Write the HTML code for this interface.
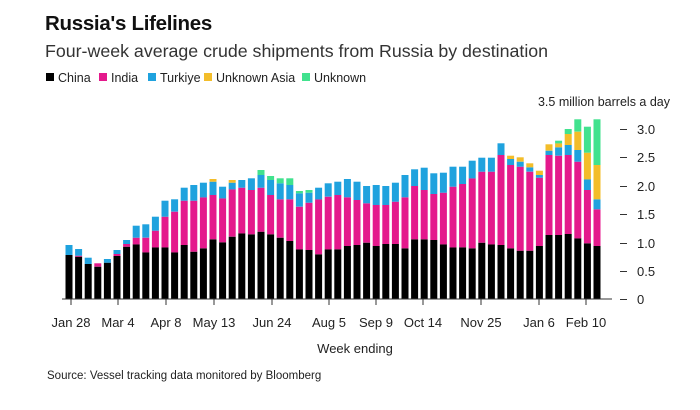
<!DOCTYPE html>
<html><head><meta charset="utf-8"><style>
body{margin:0;background:#fff;}
svg{display:block;font-family:"Liberation Sans",Arial,sans-serif;}
</style></head><body>
<svg id="s" width="700" height="410" xmlns="http://www.w3.org/2000/svg">
<rect width="700" height="410" fill="#fff"/>
<text x="45" y="30" font-size="20.5" font-weight="bold" fill="#111" letter-spacing="-0.3">Russia's Lifelines</text>
<text x="45" y="57" font-size="17.8" fill="#333">Four-week average crude shipments from Russia by destination</text>
<g font-size="12.5" fill="#222">
<rect x="46" y="73" width="8" height="8" fill="#000"/><text x="58" y="82">China</text>
<rect x="99" y="73" width="8" height="8" fill="#e4198c"/><text x="111" y="82">India</text>
<rect x="148" y="73" width="8" height="8" fill="#1fa2de"/><text x="160" y="82">Turkiye</text>
<rect x="204" y="73" width="8" height="8" fill="#f3bd2a"/><text x="216" y="82">Unknown Asia</text>
<rect x="302" y="73" width="8" height="8" fill="#41e28e"/><text x="314" y="82">Unknown</text>
</g>
<text x="670" y="106" font-size="12.5" fill="#222" text-anchor="end">3.5 million barrels a day</text>
<g id="bars"></g>
<line x1="62" y1="299" x2="612" y2="299" stroke="#333" stroke-width="1"/>
<g font-size="13" fill="#222">
<text x="637" y="134">3.0</text><text x="637" y="162">2.5</text><text x="637" y="191">2.0</text>
<text x="637" y="219">1.5</text><text x="637" y="248">1.0</text><text x="637" y="276">0.5</text><text x="637" y="304">0</text>
</g>
<g stroke="#333" stroke-width="1">
<line x1="620" y1="129.5" x2="627" y2="129.5"/><line x1="620" y1="157.5" x2="627" y2="157.5"/><line x1="620" y1="186.5" x2="627" y2="186.5"/>
<line x1="620" y1="214.5" x2="627" y2="214.5"/><line x1="620" y1="243.5" x2="627" y2="243.5"/><line x1="620" y1="271.5" x2="627" y2="271.5"/><line x1="620" y1="299.5" x2="627" y2="299.5"/>
</g>
<g id="xt" font-size="13" fill="#222" text-anchor="middle"></g>
<text x="355" y="353" font-size="13" fill="#222" text-anchor="middle">Week ending</text>
<text x="47" y="379" font-size="11.5" fill="#222">Source: Vessel tracking data monitored by Bloomberg</text>
</svg>
<script>
var d=[[435,435,405],[440,437,417],[462,462,443],[470,460,460],[458,458,447],[438,432,420],[410,402,390],[403,383,347],[427,383,343],[412,362,320],[412,320,272],[427,305,268],[405,272,233],[425,272,225],[415,262,218],[388,255,215,207],[397,265,230],[380,238,218,210],[370,233,210],[373,240,205],[365,233,195,195,180],[373,255,210,210,198],[383,268,220,220,205],[393,268,225,225,205],[418,290,250,250,243],[420,278,248,248,240],[433,268,233],[418,260,220],[418,255,215],[408,262,207],[405,270,215],[398,280,228],[408,285,225],[402,285,228],[402,275,218],[415,262,195],[388,228,178],[388,240,173],[390,252,190],[403,248,188],[412,230,170],[412,222,170],[415,205,152],[398,185,143],[403,185,143],[405,135,100],[415,165,147,137],[422,170,155,142],[422,185,172,160],[408,203,195,182],[375,135,122,103],[375,137,112,100,92],[372,135,105,72,57],[385,155,120,65,28],[400,240,208,128,50],[408,298,268,165,28]];
var cols=["#000","#e4198c","#1fa2de","#f3bd2a","#41e28e"];
var g=document.getElementById("bars"),h="";
function Y(z){return 110+z/3;}
for(var i=0;i<d.length;i++){var x=69+i*9.6-3.5,prev=299,r=d[i];
for(var k=0;k<r.length;k++){var t=Y(r[k]);if(prev-t>0.2){h+='<rect x="'+x.toFixed(1)+'" y="'+t.toFixed(1)+'" width="7" height="'+(prev-t).toFixed(1)+'" fill="'+cols[k]+'"/>';}prev=Math.min(prev,t);}}
g.innerHTML=h;
var L=[["Jan 28",71],["Mar 4",118],["Apr 8",166],["May 13",214],["Jun 24",272],["Aug 5",329],["Sep 9",376],["Oct 14",423],["Nov 25",481],["Jan 6",539],["Feb 10",586]],s="";
L.forEach(function(a){s+='<line x1="'+a[1]+'" y1="299" x2="'+a[1]+'" y2="305" stroke="#333"/><text x="'+a[1]+'" y="327">'+a[0]+'</text>';});
document.getElementById("xt").innerHTML=s;
</script>
</body></html>
